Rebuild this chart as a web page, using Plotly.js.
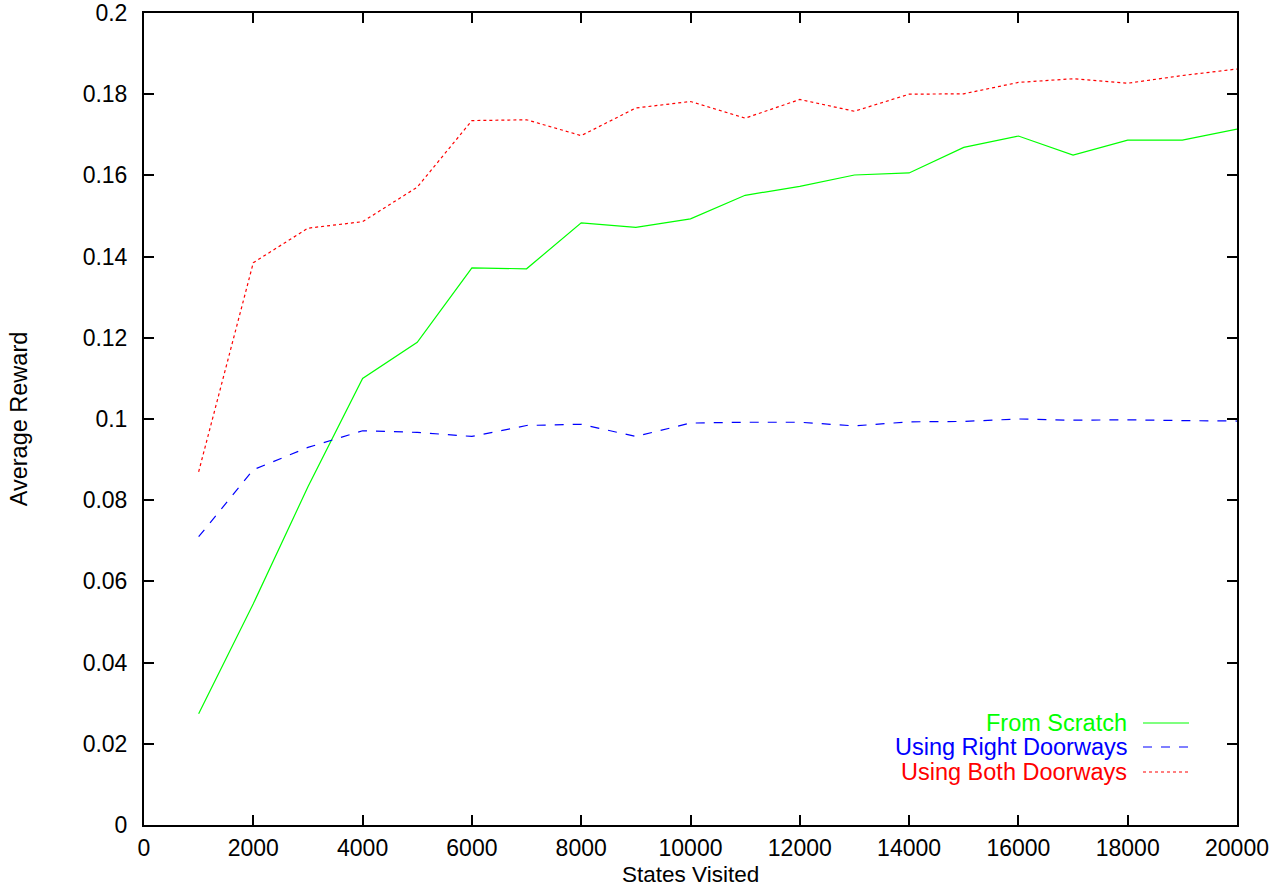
<!DOCTYPE html>
<html>
<head>
<meta charset="utf-8">
<script src="https://cdn.plot.ly/plotly-3.0.1.min.js"></script>
<style>html,body{margin:0;padding:0;background:#fff;}#chart{width:1284px;height:886px;}</style>
</head>
<body>
<div id="chart"></div>
<script>
var statesVisited = [1000,2000,3000,4000,5000,6000,7000,8000,9000,10000,11000,12000,13000,14000,15000,16000,17000,18000,19000,20000];
var fromScratch = [0.0274,0.0545,0.0833,0.1100,0.1189,0.1372,0.1370,0.1483,0.1472,0.1493,0.1551,0.1573,0.1601,0.1606,0.1669,0.1697,0.1650,0.1687,0.1687,0.1714];
var rightDoorways = [0.0710,0.0875,0.0930,0.0971,0.0967,0.0957,0.0984,0.0987,0.0957,0.0990,0.0992,0.0992,0.0983,0.0993,0.0994,0.1000,0.0997,0.0998,0.0996,0.0995];
var bothDoorways = [0.0870,0.1385,0.1470,0.1486,0.1571,0.1735,0.1737,0.1698,0.1766,0.1782,0.1741,0.1787,0.1758,0.1800,0.1801,0.1829,0.1838,0.1827,0.1846,0.1862];
var seriesNames = ['From Scratch','Using Right Doorways','Using Both Doorways'];
var seriesColors = ['#00ff00','#0000ff','#ff0000'];
var seriesDash = ['solid','dash','dot'];
var xTicks = [0,2000,4000,6000,8000,10000,12000,14000,16000,18000,20000];
var yTicks = [0,0.02,0.04,0.06,0.08,0.1,0.12,0.14,0.16,0.18,0.2];
var yTickText = ['0','0.02','0.04','0.06','0.08','0.1','0.12','0.14','0.16','0.18','0.2'];
var xTitle = 'States Visited';
var yTitle = 'Average Reward';

var ys = [fromScratch, rightDoorways, bothDoorways];
var traces = ys.map(function(y,i){
  return {x: statesVisited, y: y, type:'scatter', mode:'lines', name: seriesNames[i],
    line:{color: seriesColors[i], width: 1.2, dash: seriesDash[i]}, showlegend:false};
});

var ff = '"Liberation Sans", Arial, sans-serif';
var annotations = [], shapes = [];
var legY = [723, 747, 772];
for (var i=0;i<3;i++){
  var yp = 1 - (legY[i]-13)/812;
  annotations.push({xref:'paper', yref:'paper', x:(1128-144)/1093, y:yp, xanchor:'right', yanchor:'middle',
    text: seriesNames[i], showarrow:false, borderpad:0, font:{family:ff, size:23.5, color:seriesColors[i]}});
  shapes.push({type:'line', xref:'paper', yref:'paper', x0:(1143-144)/1093, x1:(1189-144)/1093, y0:yp, y1:yp,
    line:{color:seriesColors[i], width:1.2, dash:seriesDash[i]}});
}
annotations.push({xref:'paper', yref:'paper', x:0.5, y:1-(874.5-13)/812, xanchor:'center', yanchor:'middle',
  text:xTitle, showarrow:false, borderpad:0, font:{family:ff, size:22.5, color:'#000'}});

var layout = {
  width:1284, height:886,
  margin:{l:144, r:47, t:13, b:61},
  paper_bgcolor:'#fff', plot_bgcolor:'#fff',
  font:{family:ff, size:23, color:'#000'},
  showlegend:false,
  xaxis:{range:[0,20000], tickvals:xTicks, ticktext:xTicks.map(String), ticks:'inside', ticklen:10, tickwidth:2, tickcolor:'#000',
    showline:true, linecolor:'#000', linewidth:2, mirror:'ticks', showgrid:false, zeroline:false,
    tickfont:{family:ff, size:23, color:'#000'}, ticklabelstandoff:1, automargin:false},
  yaxis:{range:[0,0.2], tickvals:yTicks, ticktext:yTickText, ticks:'inside', ticklen:10, tickwidth:2, tickcolor:'#000',
    showline:true, linecolor:'#000', linewidth:2, mirror:'ticks', showgrid:false, zeroline:false,
    tickfont:{family:ff, size:23, color:'#000'}, ticklabelstandoff:10,
    title:{text:yTitle, font:{family:ff, size:23.5, color:'#000'}, standoff:48}, automargin:false},
  annotations: annotations,
  shapes: shapes
};
Plotly.newPlot('chart', traces, layout, {staticPlot:true, displayModeBar:false});
</script>
</body>
</html>
